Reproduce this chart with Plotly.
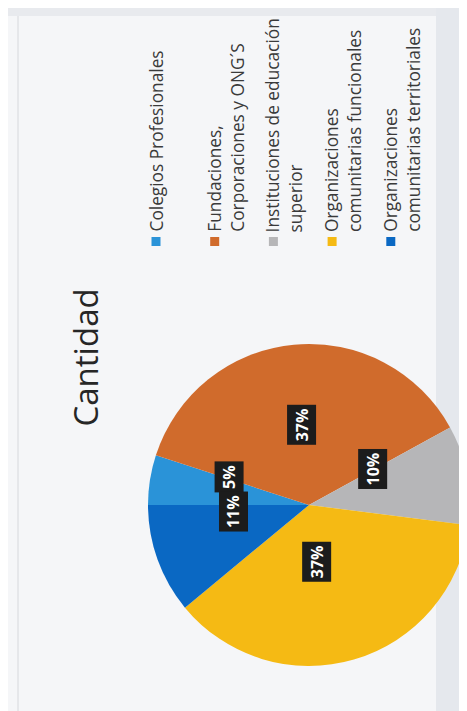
import math
import plotly.graph_objects as go

# ---- data ----
labels = [
    "Colegios Profesionales",
    "Fundaciones, Corporaciones y ONG´S",
    "Instituciones de educación superior",
    "Organizaciones comunitarias funcionales",
    "Organizaciones comunitarias territoriales",
]
legend_lines = [
    ["Colegios Profesionales"],
    ["Fundaciones,", "Corporaciones y ONG´S"],
    ["Instituciones de educación", "superior"],
    ["Organizaciones", "comunitarias funcionales"],
    ["Organizaciones", "comunitarias territoriales"],
]
values = [5, 37, 10, 37, 11]
colors = ["#2A93D8", "#D06B2C", "#B6B6B8", "#F5BA14", "#0A68C3"]
title_text = "Cantidad"

# ---- layout geometry (rotated page) ----
W, H = 467, 711
cx, cy, R = 301, 497, 161          # pie centre / radius in px
FONT = "Open Sans"

def px(x):
    return x / W

def py(y):
    return 1 - y / H

fig = go.Figure()
fig.add_trace(go.Pie(
    labels=labels,
    values=values,
    sort=False,
    direction="clockwise",
    rotation=-90,
    marker=dict(colors=colors, line=dict(width=0)),
    textinfo="none",
    hoverinfo="label+percent",
    showlegend=False,
    domain=dict(x=[px(cx - R), px(cx + R)], y=[py(cy + R), py(cy - R)]),
))

annotations = []
shapes = []

# data labels (rotated, black boxes) placed at half radius on each slice's mid angle
total = sum(values)
cum = 0
for v in values:
    frac = (cum + v / 2) / total
    ang = math.radians(180 - 360 * frac)
    x = cx + 0.5 * R * math.cos(ang)
    y = cy - 0.5 * R * math.sin(ang)
    annotations.append(dict(
        x=px(x), y=py(y), xref="paper", yref="paper",
        text=f"<b>{round(v / total * 100)}%</b>", showarrow=False,
        textangle=-90, font=dict(family=FONT, size=16, color="white"),
        bgcolor="#1c1c1c", borderpad=3,
    ))
    cum += v

# title
annotations.append(dict(
    x=px(52), y=py(350), xref="paper", yref="paper", text=title_text,
    showarrow=False, textangle=-90,
    font=dict(family=FONT, size=33, color="#262626"),
))

# legend (rotated)
for i, lines in enumerate(legend_lines):
    xi = 148 + 58.7 * i
    shapes.append(dict(
        type="rect", xref="paper", yref="paper",
        x0=px(xi - 4.5), x1=px(xi + 4.5), y0=py(238), y1=py(229),
        fillcolor=colors[i], line=dict(width=0),
    ))
    for j, line in enumerate(lines):
        annotations.append(dict(
            x=px(xi + 23 * j), y=py(226), xref="paper", yref="paper",
            text=line, showarrow=False, textangle=-90,
            xanchor="center", yanchor="bottom",
            font=dict(family=FONT, size=17.3, color="#3a3a3a"),
        ))

# page / scan background decorations
shapes.insert(0, dict(type="rect", xref="paper", yref="paper",
                      x0=px(428), x1=1, y0=0, y1=1,
                      fillcolor="#e5e8ed", line=dict(width=0), layer="below"))
shapes.insert(0, dict(type="rect", xref="paper", yref="paper",
                      x0=0, x1=1, y0=py(8), y1=1,
                      fillcolor="#e8eaee", line=dict(width=0), layer="below"))
shapes.append(dict(type="line", xref="paper", yref="paper",
                   x0=px(10), x1=px(10), y0=py(705), y1=py(8),
                   line=dict(color="#d6d8dc", width=1), layer="below"))
shapes.append(dict(type="line", xref="paper", yref="paper",
                   x0=px(10), x1=px(428), y0=py(705), y1=py(705),
                   line=dict(color="#d6d8dc", width=1), layer="below"))

fig.update_layout(
    width=W, height=H,
    margin=dict(l=0, r=0, t=0, b=0),
    paper_bgcolor="#f5f6f8",
    plot_bgcolor="#f5f6f8",
    annotations=annotations,
    shapes=shapes,
    showlegend=False,
)

fig.write_html("out.html")
